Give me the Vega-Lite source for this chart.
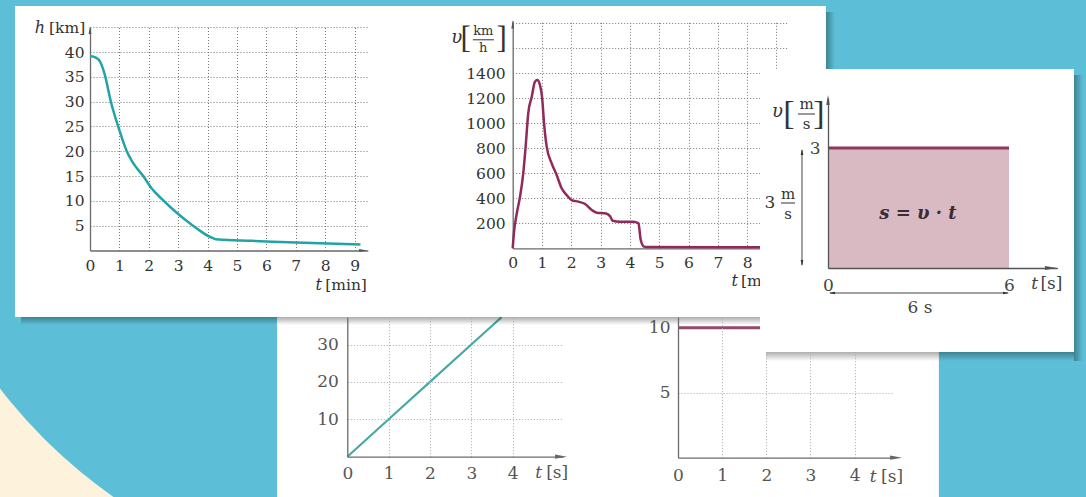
{
"$schema":"https://vega.github.io/schema/vega-lite/v6.json",
"width":811,"height":311,
"autosize":{"type":"none"},
"padding":{"left":15,"top":6,"right":260,"bottom":180},
"background":"#5cbfd7",
"view":{"fill":"white","stroke":null},
"config":{
 "axis":{"labelFont":"DejaVu Serif","labelFlush":false,"labelOverlap":false,"ticks":false,"domainColor":"#6a6a6a","domainWidth":1.3,"gridColor":"#777","gridDash":[1,2],"gridWidth":1,"labelColor":"#333","labelFontSize":15.5,"title":null,"format":"d"},
 "text":{"font":"DejaVu Serif","color":"#333"}
},
"datasets":{
 "h":[{"t":0,"h":39.2},{"t":0.2,"h":38.9},{"t":0.35,"h":38},{"t":0.5,"h":35.5},{"t":0.71,"h":30},{"t":0.96,"h":25},{"t":1.25,"h":20},{"t":1.47,"h":17.6},{"t":1.81,"h":15},{"t":2.1,"h":12.5},{"t":2.44,"h":10.4},{"t":2.95,"h":7.6},{"t":3.46,"h":5.2},{"t":4.37,"h":2.2},{"t":5.5,"h":1.95},{"t":7,"h":1.6},{"t":9.2,"h":1.2}],
 "v":[{"t":0,"v":0},{"t":0.04,"v":120},{"t":0.14,"v":280},{"t":0.25,"v":413},{"t":0.36,"v":600},{"t":0.45,"v":840},{"t":0.53,"v":1080},{"t":0.65,"v":1213},{"t":0.76,"v":1333},{"t":0.84,"v":1346},{"t":0.93,"v":1306},{"t":1.0,"v":1213},{"t":1.07,"v":1000},{"t":1.16,"v":813},{"t":1.33,"v":680},{"t":1.5,"v":586},{"t":1.67,"v":480},{"t":1.84,"v":426},{"t":2.01,"v":386},{"t":2.24,"v":373},{"t":2.47,"v":354},{"t":2.7,"v":306},{"t":2.87,"v":285},{"t":3.15,"v":280},{"t":3.32,"v":258},{"t":3.41,"v":221},{"t":3.66,"v":213},{"t":4.12,"v":213},{"t":4.29,"v":200},{"t":4.37,"v":66},{"t":4.48,"v":13},{"t":4.55,"v":10},{"t":9.3,"v":8}],
 "s":[{"t":0,"s":0},{"t":1,"s":10},{"t":2,"s":20},{"t":3,"s":30},{"t":3.73,"s":37.3}],
 "vc":[{"t":0,"v":10},{"t":4.8,"v":10}],
 "c":[{"t":0,"v":3},{"t":6,"v":3}]
},
"data":{"values":[{}]},
"resolve":{"scale":{"x":"independent","y":"independent"},"axis":{"x":"independent","y":"independent"}},
"layer":[
 {"mark":{"type":"arc","radius":900,"radius2":516,"theta":3.1416,"theta2":4.7124,"color":"#fdf3dc"},
  "encoding":{"x":{"datum":1.492,"type":"quantitative","scale":{"domain":[0,5.22],"range":[332.3,548.1],"nice":false,"zero":false},"axis":null},
   "y":{"datum":102.33,"type":"quantitative","scale":{"domain":[0,37.3],"range":[450.7,311.2],"nice":false,"zero":false},"axis":null}}},
 {"mark":{"type":"rect","color":"white"},
  "encoding":{"x":{"datum":-1.7,"type":"quantitative","scale":{"domain":[0,5.22],"range":[332.3,548.1],"nice":false,"zero":false},"axis":null},"x2":{"datum":14.31},
   "y":{"datum":37.35,"type":"quantitative","scale":{"domain":[0,37.3],"range":[450.7,311.2],"nice":false,"zero":false},"axis":null},"y2":{"datum":-12}}},
 {"mark":{"type":"point","shape":"M1,0L-1,0.35L-1,-0.35Z","filled":true,"size":144,"color":"#666","opacity":1},
  "encoding":{"x":{"datum":5.17,"type":"quantitative","scale":{"domain":[0,5.22],"range":[332.3,548.1],"nice":false,"zero":false},"axis":{"orient":"top","grid":true,"values":[1,2,3,4],"labels":false,"domain":false,"ticks":false,"gridColor":"#aaa","zindex":1}},
   "y":{"datum":0,"type":"quantitative","scale":{"domain":[0,37.3],"range":[450.7,311.2],"nice":false,"zero":false},"axis":{"orient":"left","grid":true,"values":[10,20,30],"labels":false,"domain":false,"ticks":false,"gridColor":"#aaa","zindex":1}}}},
 {"data":{"name":"s"},"mark":{"type":"line","color":"#47a9a7","strokeWidth":2.2},
  "encoding":{"x":{"field":"t","type":"quantitative","scale":{"domain":[0,5.22],"range":[332.3,548.1],"nice":false,"zero":false},"axis":{"orient":"bottom","offset":139.7,"values":[0,1,2,3,4],"grid":false,"labelPadding":9,"labelFontSize":17,"labelColor":"#555","zindex":1}},
   "y":{"field":"s","type":"quantitative","scale":{"domain":[0,37.3],"range":[450.7,311.2],"nice":false,"zero":false},"axis":{"orient":"left","offset":-332.3,"values":[10,20,30],"grid":false,"labelPadding":9,"labelFontSize":17,"labelColor":"#555","zindex":1}}}},
 {"mark":{"type":"text","text":"t","fontStyle":"italic","fontSize":17,"align":"right","color":"#555"},
  "encoding":{"x":{"datum":4.71,"type":"quantitative","scale":{"domain":[0,5.22],"range":[332.3,548.1],"nice":false,"zero":false},"axis":null},
   "y":{"datum":-4.36,"type":"quantitative","scale":{"domain":[0,37.3],"range":[450.7,311.2],"nice":false,"zero":false},"axis":null}}},
 {"mark":{"type":"text","text":"[s]","fontSize":17,"align":"left","color":"#555"},
  "encoding":{"x":{"datum":4.81,"type":"quantitative","scale":{"domain":[0,5.22],"range":[332.3,548.1],"nice":false,"zero":false},"axis":null},
   "y":{"datum":-4.36,"type":"quantitative","scale":{"domain":[0,37.3],"range":[450.7,311.2],"nice":false,"zero":false},"axis":null}}},
 {"mark":{"type":"point","shape":"M1,0L-1,0.35L-1,-0.35Z","filled":true,"size":144,"color":"#666","opacity":1},
  "encoding":{"x":{"datum":4.94,"type":"quantitative","scale":{"domain":[0,4.87],"range":[663,878],"nice":false,"zero":false},"axis":{"orient":"top","grid":true,"values":[1],"labels":false,"domain":false,"ticks":false,"gridColor":"#aaa","zindex":1}},
   "y":{"datum":0,"type":"quantitative","scale":{"domain":[0,10.82],"range":[451.7,311],"nice":false,"zero":false},"axis":{"orient":"left","grid":true,"values":[5],"labels":false,"domain":false,"ticks":false,"gridColor":"#aaa","zindex":1}}}},
 {"mark":{"type":"text","text":"[s]","fontSize":17,"align":"left","color":"#555"},
  "encoding":{"x":{"datum":4.6,"type":"quantitative","scale":{"domain":[0,4.87],"range":[663,878],"nice":false,"zero":false},"axis":{"orient":"top","grid":true,"values":[2,3,4],"labels":false,"domain":false,"ticks":false,"gridColor":"#aaa","zindex":1}},
   "y":{"datum":-1.48,"type":"quantitative","scale":{"domain":[0,8.13],"range":[451.7,346],"nice":false,"zero":false},"axis":null}}},
 {"data":{"name":"vc"},"mark":{"type":"line","color":"#8f4a6c","strokeWidth":3},
  "encoding":{"x":{"field":"t","type":"quantitative","scale":{"domain":[0,4.87],"range":[663,878],"nice":false,"zero":false},"axis":{"orient":"bottom","offset":140.7,"values":[0,1,2,3,4],"grid":false,"labelPadding":10,"labelFontSize":17,"labelColor":"#555","zindex":1}},
   "y":{"field":"v","type":"quantitative","scale":{"domain":[0,10.82],"range":[451.7,311],"nice":false,"zero":false},"axis":{"orient":"left","offset":-663,"values":[5,10],"grid":false,"labelPadding":8,"labelFontSize":17,"labelColor":"#555","zindex":1}}}},
 {"mark":{"type":"text","text":"t","fontStyle":"italic","fontSize":17,"align":"right","color":"#555"},
  "encoding":{"x":{"datum":4.5,"type":"quantitative","scale":{"domain":[0,4.87],"range":[663,878],"nice":false,"zero":false},"axis":null},
   "y":{"datum":-1.48,"type":"quantitative","scale":{"domain":[0,10.82],"range":[451.7,311],"nice":false,"zero":false},"axis":null}}},
 {"mark":{"type":"rect","fill":{"gradient":"linear","x1":0,"y1":0,"x2":0,"y2":1,"stops":[{"offset":0,"color":"rgba(0,0,0,0.32)"},{"offset":1,"color":"rgba(0,0,0,0)"}]}},
  "encoding":{"x":{"datum":-2.347,"type":"quantitative","scale":{"domain":[0,9.45],"range":[75,352.8],"nice":false,"zero":false},"axis":null},"x2":{"datum":25.034},
   "y":{"datum":-13.41,"type":"quantitative","scale":{"domain":[0,45],"range":[244.5,21.3],"nice":false,"zero":false},"axis":null},"y2":{"datum":-15.02}}},
 {"mark":{"type":"rect","fill":{"gradient":"linear","x1":0,"y1":0,"x2":1,"y2":0,"stops":[{"offset":0,"color":"rgba(0,0,0,0.32)"},{"offset":1,"color":"rgba(0,0,0,0)"}]}},
  "encoding":{"x":{"datum":25.034,"type":"quantitative","scale":{"domain":[0,9.45],"range":[75,352.8],"nice":false,"zero":false},"axis":null},"x2":{"datum":25.34},
   "y":{"datum":48.08,"type":"quantitative","scale":{"domain":[0,45],"range":[244.5,21.3],"nice":false,"zero":false},"axis":null},"y2":{"datum":-15.02}}},
 {"mark":{"type":"point","shape":"M1,0L-1,0.35L-1,-0.35Z","filled":true,"size":64,"color":"#555","opacity":1},
  "encoding":{"x":{"datum":9.29,"type":"quantitative","scale":{"domain":[0,9.45],"range":[75,352.8],"nice":false,"zero":false},"axis":{"orient":"top","grid":true,"values":[1,2,3,4,5,6,7,8,9],"labels":false,"domain":false,"ticks":false,"zindex":0}},
   "y":{"datum":0,"type":"quantitative","scale":{"domain":[0,45],"range":[244.5,21.3],"nice":false,"zero":false},"axis":{"orient":"left","grid":true,"values":[5,10,15,20,25,30,35,40,45],"labels":false,"domain":false,"ticks":false,"zindex":0}}}},
 {"data":{"name":"h"},"mark":{"type":"line","color":"#22a3a6","strokeWidth":2.5,"interpolate":"monotone"},
  "encoding":{"x":{"field":"t","type":"quantitative","scale":{"domain":[0,9.45],"range":[75,352.8],"nice":false,"zero":false},"axis":{"orient":"bottom","offset":-66.5,"values":[0,1,2,3,4,5,6,7,8,9],"grid":false,"labelPadding":8,"zindex":0}},
   "y":{"field":"h","type":"quantitative","scale":{"domain":[0,45],"range":[244.5,21.3],"nice":false,"zero":false},"axis":{"orient":"left","offset":-75,"values":[5,10,15,20,25,30,35,40],"grid":false,"labelPadding":6,"zindex":0}}}},
 {"mark":{"type":"point","shape":"M0,-1L0.35,1L-0.35,1Z","filled":true,"size":64,"color":"#555","opacity":1},
  "encoding":{"x":{"datum":0,"type":"quantitative","scale":{"domain":[0,9.45],"range":[75,352.8],"nice":false,"zero":false},"axis":null},
   "y":{"datum":44.46,"type":"quantitative","scale":{"domain":[0,45],"range":[244.5,21.3],"nice":false,"zero":false},"axis":null}}},
 {"mark":{"type":"text","text":"h","fontStyle":"italic","fontSize":16},
  "encoding":{"x":{"datum":-1.7,"type":"quantitative","scale":{"domain":[0,9.45],"range":[75,352.8],"nice":false,"zero":false},"axis":null},
   "y":{"datum":44.8,"type":"quantitative","scale":{"domain":[0,45],"range":[244.5,21.3],"nice":false,"zero":false},"axis":null}}},
 {"mark":{"type":"text","text":"[km]","fontSize":15.5,"align":"left"},
  "encoding":{"x":{"datum":-1.395,"type":"quantitative","scale":{"domain":[0,9.45],"range":[75,352.8],"nice":false,"zero":false},"axis":null},
   "y":{"datum":44.8,"type":"quantitative","scale":{"domain":[0,45],"range":[244.5,21.3],"nice":false,"zero":false},"axis":null}}},
 {"mark":{"type":"text","text":"t","fontStyle":"italic","fontSize":16,"align":"right"},
  "encoding":{"x":{"datum":7.89,"type":"quantitative","scale":{"domain":[0,9.45],"range":[75,352.8],"nice":false,"zero":false},"axis":null},
   "y":{"datum":-6.96,"type":"quantitative","scale":{"domain":[0,45],"range":[244.5,21.3],"nice":false,"zero":false},"axis":null}}},
 {"mark":{"type":"text","text":"[min]","fontSize":15.5,"align":"left"},
  "encoding":{"x":{"datum":8.0,"type":"quantitative","scale":{"domain":[0,9.45],"range":[75,352.8],"nice":false,"zero":false},"axis":null},
   "y":{"datum":-6.96,"type":"quantitative","scale":{"domain":[0,45],"range":[244.5,21.3],"nice":false,"zero":false},"axis":null}}},
 {"mark":{"type":"point","shape":"M0,-1L0.35,1L-0.35,1Z","filled":true,"size":64,"color":"#555","opacity":1},
  "encoding":{"x":{"datum":0,"type":"quantitative","scale":{"domain":[0,9.36],"range":[497.7,772],"nice":false,"zero":false},"axis":{"orient":"top","grid":true,"values":[1,2,3,4,5,6,7,8,9],"labels":false,"domain":false,"ticks":false,"zindex":0}},
   "y":{"datum":1790,"type":"quantitative","scale":{"domain":[0,1820],"range":[242.3,14.8],"nice":false,"zero":false},"axis":{"orient":"left","grid":true,"values":[200,400,600,800,1000,1200,1400,1600,1800],"labels":false,"domain":false,"ticks":false,"zindex":0}}}},
 {"data":{"name":"v"},"mark":{"type":"line","color":"#8f2a5b","strokeWidth":2.5,"interpolate":"monotone"},
  "encoding":{"x":{"field":"t","type":"quantitative","scale":{"domain":[0,9.36],"range":[497.7,772],"nice":false,"zero":false},"axis":{"orient":"bottom","offset":-68.7,"values":[0,1,2,3,4,5,6,7,8,9],"grid":false,"labelPadding":7.5,"zindex":0}},
   "y":{"field":"v","type":"quantitative","scale":{"domain":[0,1820],"range":[242.3,14.8],"nice":false,"zero":false},"axis":{"orient":"left","offset":-497.7,"values":[200,400,600,800,1000,1200,1400],"grid":false,"labelPadding":7.5,"format":"d","zindex":0}}}},
 {"mark":{"type":"text","text":"υ","fontStyle":"italic","fontSize":18},
  "encoding":{"x":{"datum":-1.911,"type":"quantitative","scale":{"domain":[0,9.36],"range":[497.7,772],"nice":false,"zero":false},"axis":null},
   "y":{"datum":1680,"type":"quantitative","scale":{"domain":[0,1820],"range":[242.3,14.8],"nice":false,"zero":false},"axis":null}}},
 {"mark":{"type":"text","text":"[","font":"Liberation Serif","fontSize":31},
  "encoding":{"x":{"datum":-1.604,"type":"quantitative","scale":{"domain":[0,9.36],"range":[497.7,772],"nice":false,"zero":false},"axis":null},
   "y":{"datum":1676,"type":"quantitative","scale":{"domain":[0,1820],"range":[242.3,14.8],"nice":false,"zero":false},"axis":null}}},
 {"mark":{"type":"text","text":"km","fontSize":13},
  "encoding":{"x":{"datum":-1.003,"type":"quantitative","scale":{"domain":[0,9.36],"range":[497.7,772],"nice":false,"zero":false},"axis":null},
   "y":{"datum":1736,"type":"quantitative","scale":{"domain":[0,1820],"range":[242.3,14.8],"nice":false,"zero":false},"axis":null}}},
 {"mark":{"type":"text","text":"h","fontSize":13},
  "encoding":{"x":{"datum":-1.003,"type":"quantitative","scale":{"domain":[0,9.36],"range":[497.7,772],"nice":false,"zero":false},"axis":null},
   "y":{"datum":1606,"type":"quantitative","scale":{"domain":[0,1820],"range":[242.3,14.8],"nice":false,"zero":false},"axis":null}}},
 {"mark":{"type":"rule","color":"#333","strokeWidth":1},
  "encoding":{"x":{"datum":-1.36,"type":"quantitative","scale":{"domain":[0,9.36],"range":[497.7,772],"nice":false,"zero":false},"axis":null},"x2":{"datum":-0.64},
   "y":{"datum":1668,"type":"quantitative","scale":{"domain":[0,1820],"range":[242.3,14.8],"nice":false,"zero":false},"axis":null}}},
 {"mark":{"type":"text","text":"]","font":"Liberation Serif","fontSize":31},
  "encoding":{"x":{"datum":-0.375,"type":"quantitative","scale":{"domain":[0,9.36],"range":[497.7,772],"nice":false,"zero":false},"axis":null},
   "y":{"datum":1676,"type":"quantitative","scale":{"domain":[0,1820],"range":[242.3,14.8],"nice":false,"zero":false},"axis":null}}},
 {"mark":{"type":"text","text":"t","fontStyle":"italic","fontSize":16,"align":"right"},
  "encoding":{"x":{"datum":7.69,"type":"quantitative","scale":{"domain":[0,9.36],"range":[497.7,772],"nice":false,"zero":false},"axis":null},
   "y":{"datum":-262,"type":"quantitative","scale":{"domain":[0,1820],"range":[242.3,14.8],"nice":false,"zero":false},"axis":null}}},
 {"mark":{"type":"text","text":"[min]","fontSize":15.5,"align":"left"},
  "encoding":{"x":{"datum":7.79,"type":"quantitative","scale":{"domain":[0,9.36],"range":[497.7,772],"nice":false,"zero":false},"axis":null},
   "y":{"datum":-262,"type":"quantitative","scale":{"domain":[0,1820],"range":[242.3,14.8],"nice":false,"zero":false},"axis":null}}},
 {"mark":{"type":"rect","fill":{"gradient":"linear","x1":0,"y1":0,"x2":0,"y2":1,"stops":[{"offset":0,"color":"rgba(0,0,0,0.32)"},{"offset":1,"color":"rgba(0,0,0,0)"}]}},
  "encoding":{"x":{"datum":-2.055,"type":"quantitative","scale":{"domain":[0,7.6],"range":[813,1042.3],"nice":false,"zero":false},"axis":null},"x2":{"datum":8.154},
   "y":{"datum":-2.1,"type":"quantitative","scale":{"domain":[0,4.25],"range":[262,92],"nice":false,"zero":false},"axis":null},"y2":{"datum":-2.325}}},
 {"mark":{"type":"rect","fill":{"gradient":"linear","x1":0,"y1":0,"x2":1,"y2":0,"stops":[{"offset":0,"color":"rgba(0,0,0,0.32)"},{"offset":1,"color":"rgba(0,0,0,0)"}]}},
  "encoding":{"x":{"datum":8.154,"type":"quantitative","scale":{"domain":[0,7.6],"range":[813,1042.3],"nice":false,"zero":false},"axis":null},"x2":{"datum":8.452},
   "y":{"datum":4.825,"type":"quantitative","scale":{"domain":[0,4.25],"range":[262,92],"nice":false,"zero":false},"axis":null},"y2":{"datum":-2.325}}},
 {"mark":{"type":"rect","color":"white"},
  "encoding":{"x":{"datum":-2.254,"type":"quantitative","scale":{"domain":[0,7.6],"range":[813,1042.3],"nice":false,"zero":false},"axis":null},"x2":{"datum":8.154},
   "y":{"datum":4.975,"type":"quantitative","scale":{"domain":[0,4.25],"range":[262,92],"nice":false,"zero":false},"axis":null},"y2":{"datum":-2.1}}},
 {"data":{"name":"c"},"mark":{"type":"area","color":"#d9bac3","opacity":1},
  "encoding":{"x":{"field":"t","type":"quantitative","scale":{"domain":[0,7.6],"range":[813,1042.3],"nice":false,"zero":false},"axis":{"orient":"bottom","offset":-49,"values":[0,6],"grid":false,"labelPadding":9,"labelFontSize":17,"labelColor":"#444","domainColor":"#555","zindex":1}},
   "y":{"field":"v","type":"quantitative","scale":{"domain":[0,4.25],"range":[262,92],"nice":false,"zero":false},"axis":{"orient":"left","offset":-813,"values":[3],"grid":false,"labelPadding":8,"labelFontSize":17,"labelColor":"#444","domainColor":"#555","zindex":1}},
   "y2":{"datum":0}}},
 {"data":{"name":"c"},"mark":{"type":"line","color":"#8e3560","strokeWidth":3},
  "encoding":{"x":{"field":"t","type":"quantitative","scale":{"domain":[0,7.6],"range":[813,1042.3],"nice":false,"zero":false},"axis":null},
   "y":{"field":"v","type":"quantitative","scale":{"domain":[0,4.25],"range":[262,92],"nice":false,"zero":false},"axis":null}}},
 {"mark":{"type":"point","shape":"M0,-1L0.35,1L-0.35,1Z","filled":true,"size":100,"color":"#555","opacity":1},
  "encoding":{"x":{"datum":0,"type":"quantitative","scale":{"domain":[0,7.6],"range":[813,1042.3],"nice":false,"zero":false},"axis":null},
   "y":{"datum":4.2,"type":"quantitative","scale":{"domain":[0,4.25],"range":[262,92],"nice":false,"zero":false},"axis":null}}},
 {"mark":{"type":"point","shape":"M1,0L-1,0.35L-1,-0.35Z","filled":true,"size":144,"color":"#555","opacity":1},
  "encoding":{"x":{"datum":7.39,"type":"quantitative","scale":{"domain":[0,7.6],"range":[813,1042.3],"nice":false,"zero":false},"axis":null},
   "y":{"datum":0,"type":"quantitative","scale":{"domain":[0,4.25],"range":[262,92],"nice":false,"zero":false},"axis":null}}},
 {"mark":{"type":"text","text":"υ","fontStyle":"italic","fontSize":18},
  "encoding":{"x":{"datum":-1.674,"type":"quantitative","scale":{"domain":[0,7.6],"range":[813,1042.3],"nice":false,"zero":false},"axis":null},
   "y":{"datum":3.9,"type":"quantitative","scale":{"domain":[0,4.25],"range":[262,92],"nice":false,"zero":false},"axis":null}}},
 {"mark":{"type":"text","text":"[","font":"Liberation Serif","fontSize":34},
  "encoding":{"x":{"datum":-1.293,"type":"quantitative","scale":{"domain":[0,7.6],"range":[813,1042.3],"nice":false,"zero":false},"axis":null},
   "y":{"datum":3.86,"type":"quantitative","scale":{"domain":[0,4.25],"range":[262,92],"nice":false,"zero":false},"axis":null}}},
 {"mark":{"type":"text","text":"m","fontSize":15},
  "encoding":{"x":{"datum":-0.713,"type":"quantitative","scale":{"domain":[0,7.6],"range":[813,1042.3],"nice":false,"zero":false},"axis":null},
   "y":{"datum":4.1,"type":"quantitative","scale":{"domain":[0,4.25],"range":[262,92],"nice":false,"zero":false},"axis":null}}},
 {"mark":{"type":"text","text":"s","fontSize":15},
  "encoding":{"x":{"datum":-0.713,"type":"quantitative","scale":{"domain":[0,7.6],"range":[813,1042.3],"nice":false,"zero":false},"axis":null},
   "y":{"datum":3.6,"type":"quantitative","scale":{"domain":[0,4.25],"range":[262,92],"nice":false,"zero":false},"axis":null}}},
 {"mark":{"type":"rule","color":"#333","strokeWidth":1},
  "encoding":{"x":{"datum":-0.994,"type":"quantitative","scale":{"domain":[0,7.6],"range":[813,1042.3],"nice":false,"zero":false},"axis":null},"x2":{"datum":-0.431},
   "y":{"datum":3.85,"type":"quantitative","scale":{"domain":[0,4.25],"range":[262,92],"nice":false,"zero":false},"axis":null}}},
 {"mark":{"type":"text","text":"]","font":"Liberation Serif","fontSize":34},
  "encoding":{"x":{"datum":-0.298,"type":"quantitative","scale":{"domain":[0,7.6],"range":[813,1042.3],"nice":false,"zero":false},"axis":null},
   "y":{"datum":3.86,"type":"quantitative","scale":{"domain":[0,4.25],"range":[262,92],"nice":false,"zero":false},"axis":null}}},
 {"mark":{"type":"text","text":"3","fontSize":17},
  "encoding":{"x":{"datum":-1.922,"type":"quantitative","scale":{"domain":[0,7.6],"range":[813,1042.3],"nice":false,"zero":false},"axis":null},
   "y":{"datum":1.625,"type":"quantitative","scale":{"domain":[0,4.25],"range":[262,92],"nice":false,"zero":false},"axis":null}}},
 {"mark":{"type":"text","text":"m","fontSize":15},
  "encoding":{"x":{"datum":-1.326,"type":"quantitative","scale":{"domain":[0,7.6],"range":[813,1042.3],"nice":false,"zero":false},"axis":null},
   "y":{"datum":1.86,"type":"quantitative","scale":{"domain":[0,4.25],"range":[262,92],"nice":false,"zero":false},"axis":null}}},
 {"mark":{"type":"text","text":"s","fontSize":15},
  "encoding":{"x":{"datum":-1.326,"type":"quantitative","scale":{"domain":[0,7.6],"range":[813,1042.3],"nice":false,"zero":false},"axis":null},
   "y":{"datum":1.36,"type":"quantitative","scale":{"domain":[0,4.25],"range":[262,92],"nice":false,"zero":false},"axis":null}}},
 {"mark":{"type":"rule","color":"#333","strokeWidth":1},
  "encoding":{"x":{"datum":-1.558,"type":"quantitative","scale":{"domain":[0,7.6],"range":[813,1042.3],"nice":false,"zero":false},"axis":null},"x2":{"datum":-1.094},
   "y":{"datum":1.625,"type":"quantitative","scale":{"domain":[0,4.25],"range":[262,92],"nice":false,"zero":false},"axis":null}}},
 {"mark":{"type":"rule","color":"#444","strokeWidth":1},
  "encoding":{"x":{"datum":-0.862,"type":"quantitative","scale":{"domain":[0,7.6],"range":[813,1042.3],"nice":false,"zero":false},"axis":null},
   "y":{"datum":0.075,"type":"quantitative","scale":{"domain":[0,4.25],"range":[262,92],"nice":false,"zero":false},"axis":null},"y2":{"datum":2.95}}},
 {"mark":{"type":"point","shape":"M0,-1L0.45,1L-0.45,1Z","filled":true,"size":36,"color":"#333","opacity":1},
  "encoding":{"x":{"datum":-0.862,"type":"quantitative","scale":{"domain":[0,7.6],"range":[813,1042.3],"nice":false,"zero":false},"axis":null},
   "y":{"datum":2.9,"type":"quantitative","scale":{"domain":[0,4.25],"range":[262,92],"nice":false,"zero":false},"axis":null}}},
 {"mark":{"type":"point","shape":"M0,1L0.45,-1L-0.45,-1Z","filled":true,"size":36,"color":"#333","opacity":1},
  "encoding":{"x":{"datum":-0.862,"type":"quantitative","scale":{"domain":[0,7.6],"range":[813,1042.3],"nice":false,"zero":false},"axis":null},
   "y":{"datum":0.125,"type":"quantitative","scale":{"domain":[0,4.25],"range":[262,92],"nice":false,"zero":false},"axis":null}}},
 {"mark":{"type":"rule","color":"#444","strokeWidth":1},
  "encoding":{"x":{"datum":0.066,"type":"quantitative","scale":{"domain":[0,7.6],"range":[813,1042.3],"nice":false,"zero":false},"axis":null},"x2":{"datum":5.97},
   "y":{"datum":-0.625,"type":"quantitative","scale":{"domain":[0,4.25],"range":[262,92],"nice":false,"zero":false},"axis":null}}},
 {"mark":{"type":"point","shape":"M-1,0L1,0.45L1,-0.45Z","filled":true,"size":36,"color":"#333","opacity":1},
  "encoding":{"x":{"datum":0.13,"type":"quantitative","scale":{"domain":[0,7.6],"range":[813,1042.3],"nice":false,"zero":false},"axis":null},
   "y":{"datum":-0.625,"type":"quantitative","scale":{"domain":[0,4.25],"range":[262,92],"nice":false,"zero":false},"axis":null}}},
 {"mark":{"type":"point","shape":"M1,0L-1,0.45L-1,-0.45Z","filled":true,"size":36,"color":"#333","opacity":1},
  "encoding":{"x":{"datum":5.9,"type":"quantitative","scale":{"domain":[0,7.6],"range":[813,1042.3],"nice":false,"zero":false},"axis":null},
   "y":{"datum":-0.625,"type":"quantitative","scale":{"domain":[0,4.25],"range":[262,92],"nice":false,"zero":false},"axis":null}}},
 {"mark":{"type":"text","text":"s = υ · t","fontStyle":"italic","fontWeight":"bold","fontSize":18,"color":"#3b2b33"},
  "encoding":{"x":{"datum":2.983,"type":"quantitative","scale":{"domain":[0,7.6],"range":[813,1042.3],"nice":false,"zero":false},"axis":null},
   "y":{"datum":1.35,"type":"quantitative","scale":{"domain":[0,4.25],"range":[262,92],"nice":false,"zero":false},"axis":null}}},
 {"mark":{"type":"text","text":"6 s","fontSize":17,"color":"#444"},
  "encoding":{"x":{"datum":3.05,"type":"quantitative","scale":{"domain":[0,7.6],"range":[813,1042.3],"nice":false,"zero":false},"axis":null},
   "y":{"datum":-1.01,"type":"quantitative","scale":{"domain":[0,4.25],"range":[262,92],"nice":false,"zero":false},"axis":null}}},
 {"mark":{"type":"text","text":"t","fontStyle":"italic","fontSize":17,"align":"right","color":"#444"},
  "encoding":{"x":{"datum":6.96,"type":"quantitative","scale":{"domain":[0,7.6],"range":[813,1042.3],"nice":false,"zero":false},"axis":null},
   "y":{"datum":-0.4,"type":"quantitative","scale":{"domain":[0,4.25],"range":[262,92],"nice":false,"zero":false},"axis":null}}},
 {"mark":{"type":"text","text":"[s]","fontSize":17,"align":"left","color":"#444"},
  "encoding":{"x":{"datum":7.04,"type":"quantitative","scale":{"domain":[0,7.6],"range":[813,1042.3],"nice":false,"zero":false},"axis":null},
   "y":{"datum":-0.4,"type":"quantitative","scale":{"domain":[0,4.25],"range":[262,92],"nice":false,"zero":false},"axis":null}}}
]
}
